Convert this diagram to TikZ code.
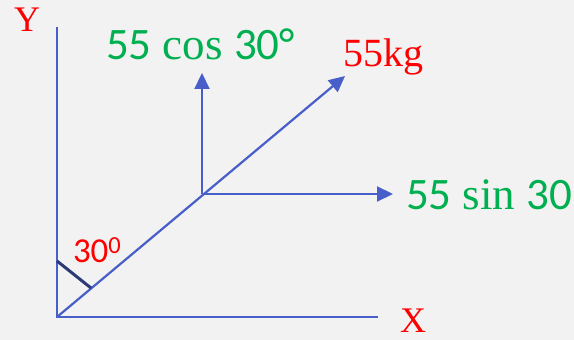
\documentclass[tikz,border=0pt]{standalone}
\usepackage{fontspec}
\setmainfont{Liberation Serif}
\newfontfamily\calfont{Carlito}
\usepackage{tikz}
\usetikzlibrary{arrows.meta,positioning,calc}
\definecolor{vecblue}{RGB}{72,94,200}
\definecolor{markblue}{RGB}{44,58,120}
\definecolor{compgreen}{RGB}{0,176,80}
\definecolor{bggray}{RGB}{242,242,242}

\begin{document}
\begin{tikzpicture}[
    x=1pt, y=1pt,
    every node/.style={inner sep=0pt, outer sep=0pt},
    axis/.style={
        draw=vecblue,
        line width=2.2pt
    },
    vec/.style={
        axis,
        -{Triangle[length=16pt,width=15pt]}
    },
    anglemark/.style={
        draw=markblue,
        line width=3pt
    },
    axislbl/.style={
        text=red,
        font=\fontsize{36}{36}\selectfont,
        anchor=base
    },
    complbl/.style={
        text=compgreen,
        font=\fontsize{45}{45}\selectfont,
        anchor=base west
    }
]

\fill[bggray] (0,0) rectangle (574,340);
\useasboundingbox (0,0) rectangle (574,340);

\coordinate (origin) at (57,23);
\coordinate (ytop) at (57,313);
\coordinate (xend) at (378,23);
\coordinate (force) at (345,264);
\coordinate (split) at (202,146);
\coordinate (uptip) at (202,267);
\coordinate (righttip) at (393,146);

% axes
\draw[axis] (ytop) -- (origin) -- (xend);

% resultant and its components
\draw[vec] (origin) -- (force);
\draw[vec] (split) -- (uptip);
\draw[vec] (split) -- (righttip);

% angle mark
\draw[anglemark] (57,79) -- (91,52);

\node[axislbl] (ylbl) at (27,308) {Y};
\node[axislbl, anchor=base west] (xlbl) at (400,7) {X};

\node[complbl] (coslbl) at (106,280)
{{\calfont 55} cos {\calfont 30°}};

\node[complbl] (sinlbl) at (406,130)
{{\calfont 55} sin {\calfont 30}};

\node[anchor=base west, text=red, font=\fontsize{40}{40}\selectfont]
(masslbl) at (343,273) {55kg};

\node[anchor=base west, text=red, font=\calfont\fontsize{35}{35}\selectfont]
(anglelbl) at (73,77) {30\textsuperscript{0}};

\end{tikzpicture}
\end{document}
